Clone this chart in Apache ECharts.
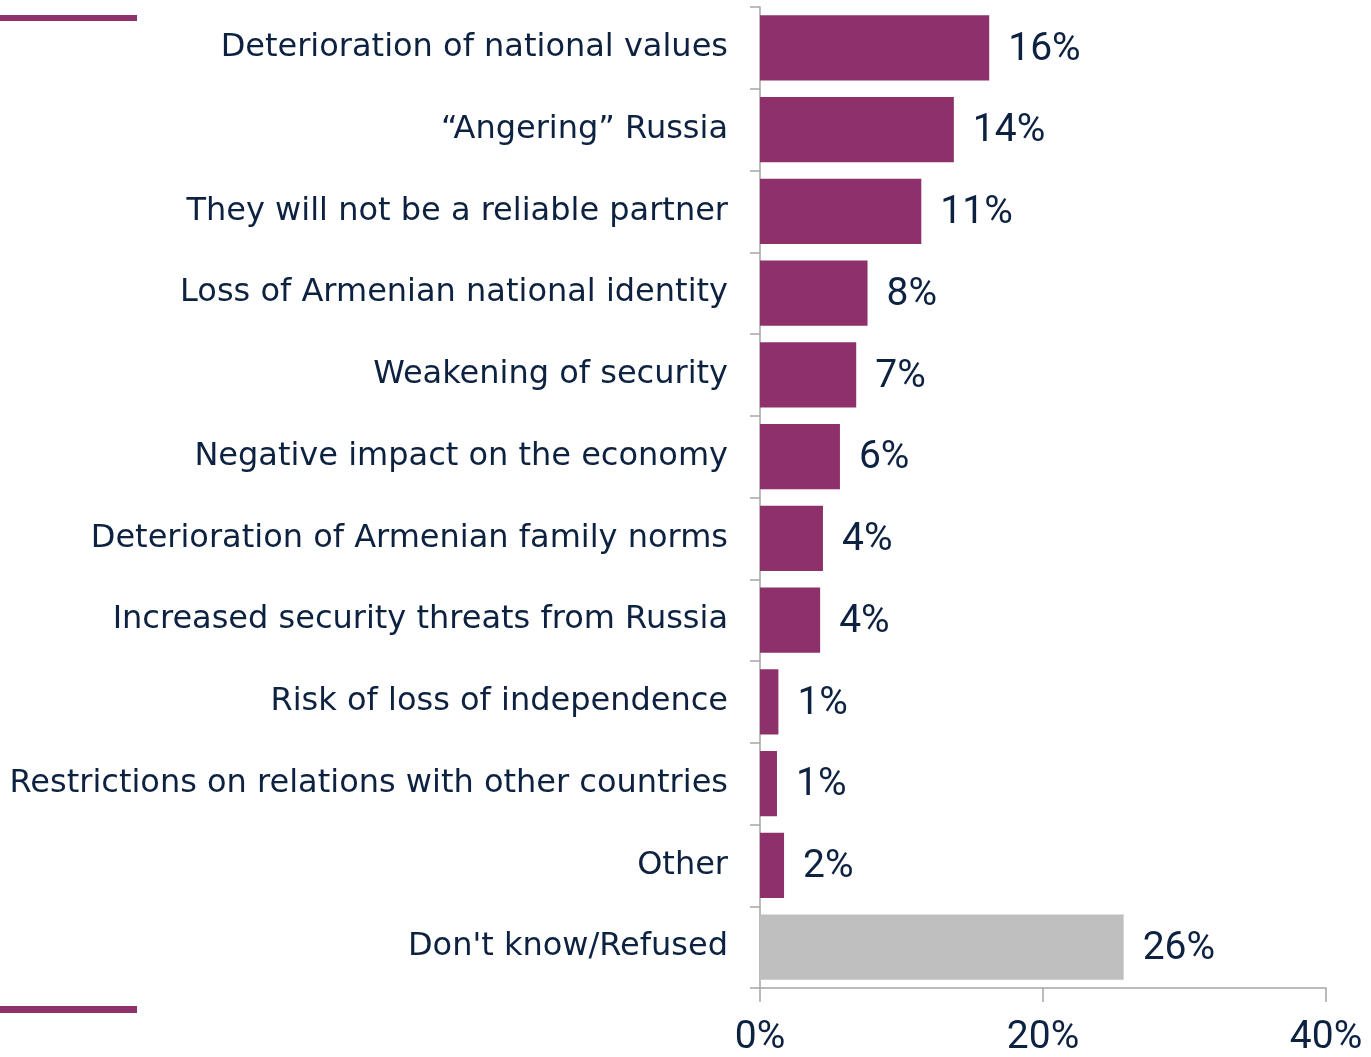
<!DOCTYPE html>
<html><head><meta charset="utf-8">
<script src="https://cdn.jsdelivr.net/npm/echarts@6/dist/echarts.min.js"></script>
<style>html,body{margin:0;padding:0;background:#fff}#c{width:1371px;height:1057px}</style>
</head><body><div id="c"></div>
<script>
const categories = [
  "Deterioration of national values",
  "\u201cAngering\u201d Russia",
  "They will not be a reliable partner",
  "Loss of Armenian national identity",
  "Weakening of security",
  "Negative impact on the economy",
  "Deterioration of Armenian family norms",
  "Increased security threats from Russia",
  "Risk of loss of independence",
  "Restrictions on relations with other countries",
  "Other",
  "Don't know/Refused"
];
const values = [16.2, 13.7, 11.4, 7.6, 6.8, 5.65, 4.45, 4.25, 1.3, 1.2, 1.7, 25.7];
const labels = ["16%","14%","11%","8%","7%","6%","4%","4%","1%","1%","2%","26%"];
const xTicks = [0, 20, 40];

const PURPLE = "#8E316B", GREY = "#BFBFBF", NAVY = "#0D2240", AXIS = "#A6A6A6";
const FONT = "DejaVu Sans";
const NFONT = "Roboto";

const chart = echarts.init(document.getElementById('c'), null, {renderer:'canvas'});
chart.setOption({
  animation:false,
  grid:{left:760, right:45, top:7, bottom:69, containLabel:false, outerBoundsMode:'none'},
  xAxis:{type:'value', min:xTicks[0], max:xTicks[xTicks.length-1], interval:20,
    axisLine:{show:true, lineStyle:{color:AXIS, width:1.5}},
    axisTick:{show:true, length:14, lineStyle:{color:AXIS, width:1.5}},
    splitLine:{show:false},
    axisLabel:{formatter:v=>v+'%', color:NAVY, fontSize:39, fontFamily:NFONT, margin:31}},
  yAxis:{type:'category', inverse:true, data:categories,
    axisLine:{show:true, lineStyle:{color:AXIS, width:1.5}},
    axisTick:{show:true, length:10, lineStyle:{color:AXIS, width:1.5}},
    axisLabel:{color:NAVY, fontSize:32, fontFamily:FONT, margin:32}},
  series:[{type:'bar', barCategoryGap:'20%',
    data: values.map((v,i)=>({value:v, itemStyle:{color: i===values.length-1?GREY:PURPLE}})),
    label:{show:true, position:'right', distance:19, color:NAVY, fontSize:39, fontFamily:NFONT,
      offset:[0,2], formatter:p=>labels[p.dataIndex]}}],
  graphic:[
    {type:'rect', shape:{x:0,y:15,width:137,height:6}, style:{fill:PURPLE}},
    {type:'rect', shape:{x:0,y:1006,width:137,height:7}, style:{fill:PURPLE}}
  ]
});
</script></body></html>
